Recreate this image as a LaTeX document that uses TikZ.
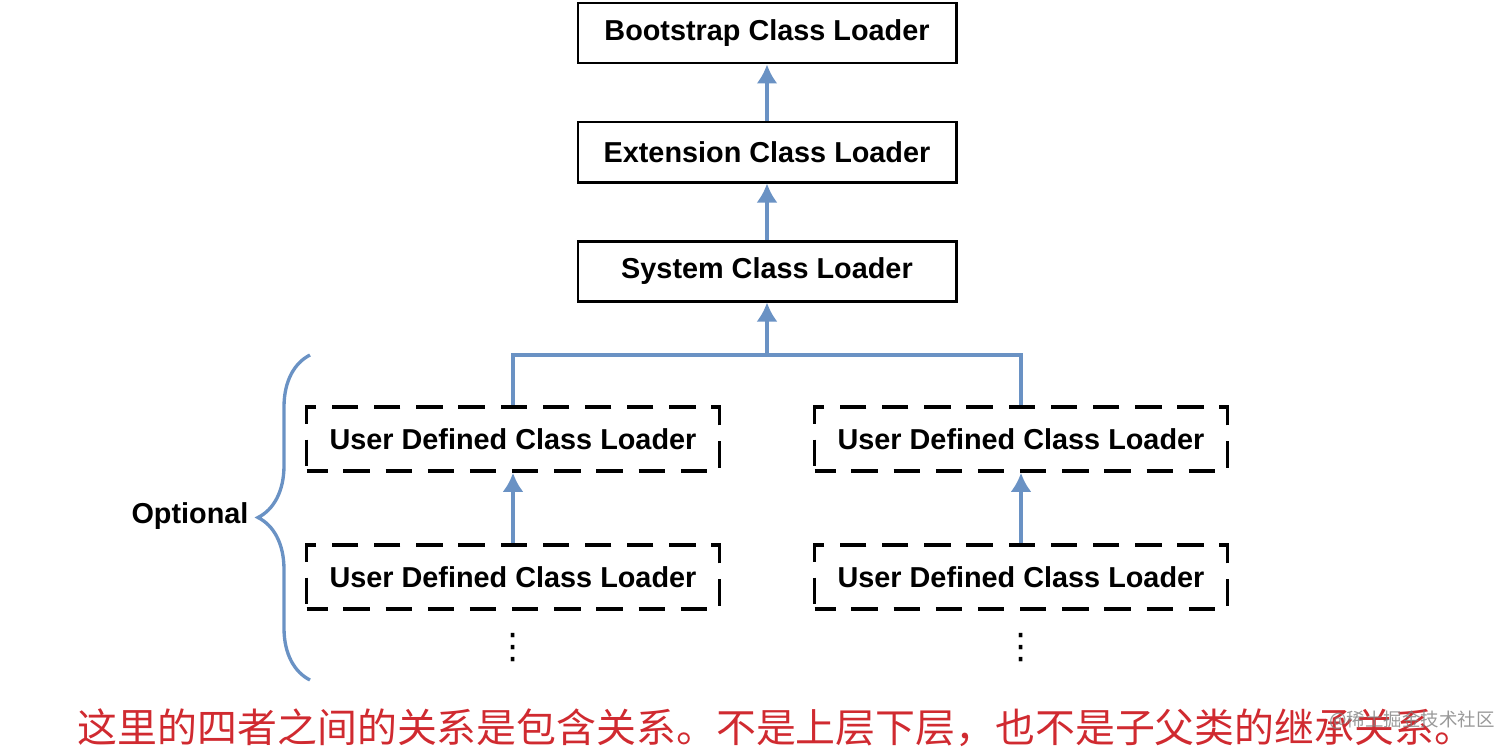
\documentclass[tikz,border=0pt]{standalone}
\usepackage{fontspec}
\setmainfont{Liberation Sans}
\newfontfamily\cjkfont{Noto Sans CJK SC}
\newfontfamily\symfont{DejaVu Sans}
\usepackage{tikz}
\usetikzlibrary{arrows.meta, decorations.pathreplacing}
\definecolor{linkblue}{RGB}{106,146,196}
\definecolor{notered}{RGB}{208,42,48}
\tikzstyle{loader}=[draw, line width=1.7pt, minimum width=7.56cm, minimum height=1.2cm, font=\fontsize{16.4}{19}\selectfont\bfseries]
\tikzstyle{userloader}=[draw, line width=2.1pt, dash pattern=on 15pt off 9pt, dash phase=3pt, minimum width=8.26cm, minimum height=1.28cm, font=\fontsize{16.4}{19}\selectfont\bfseries]
\tikzstyle{arrow}=[draw=linkblue, line width=1.9pt, -{Latex[length=3.8mm, width=4.2mm]}]
\tikzstyle{link}=[draw=linkblue, line width=1.9pt]
\tikzstyle{dots}=[font=\symfont\fontsize{20}{22}\selectfont]

\begin{document}
\begin{tikzpicture}
		   \useasboundingbox (0,0) rectangle (30.24,-15.06);
		   \begin{scope}
			   \node (boot) at (15.34, -0.66)[loader] {Bootstrap Class Loader};
			   \node (ext) at (15.34, -3.04)[loader] {Extension Class Loader};
			   \node (sys) at (15.34, -5.42)[loader] {System Class Loader};
			   \node (ul1) at (10.26, -8.78)[userloader] {User Defined Class Loader};
			   \node (ul2) at (10.26, -11.54)[userloader] {User Defined Class Loader};
			   \node (ur1) at (20.42, -8.78)[userloader] {User Defined Class Loader};
			   \node (ur2) at (20.42, -11.54)[userloader] {User Defined Class Loader};
			   \node (ldots) at (10.26, -12.96)[dots] {⋮};
			   \node (rdots) at (20.42, -12.96)[dots] {⋮};
			   \node (opt) at (3.8, -10.32)[font=\fontsize{16.4}{19}\selectfont\bfseries] {Optional};
			   \coordinate (join) at (15.34, -7.1);
			   \coordinate (btop) at (6.2, -7.1);
			   \coordinate (bbot) at (6.2, -13.6);
			   \node (note) at (15.52, -14.56)[text=notered, font=\cjkfont\fontsize{22.7}{27}\selectfont] {这里的四者之间的关系是包含关系。不是上层下层，也不是子父类的继承关系。};
			   \node (mark) at (28.24, -14.4)[text=gray, opacity=0.8, font=\cjkfont\fontsize{10.5}{12}\selectfont] {@稀土掘金技术社区};
		   \end{scope}
		   \begin{scope}
			   \draw [arrow] (ext) -- (boot);
			   \draw [arrow] (sys) -- (ext);
			   \draw [arrow] (ul2) -- (ul1);
			   \draw [arrow] (ur2) -- (ur1);
			   \draw [link] (ul1.north) |- (join);
			   \draw [link] (ur1.north) |- (join);
			   \draw [arrow] (join) -- (sys);
			   \draw [link, decorate, decoration={brace, amplitude=1.04cm}] (bbot) -- (btop);
		   \end{scope}
	   \end{tikzpicture}
\end{document}
